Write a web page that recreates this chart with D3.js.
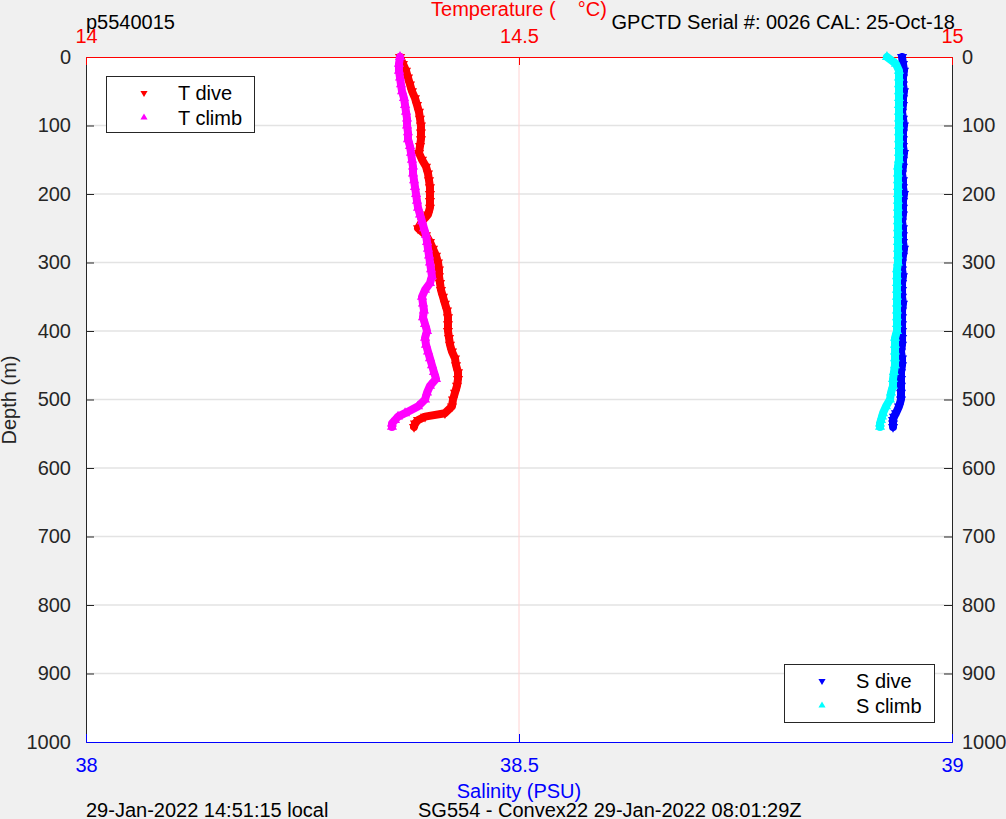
<!DOCTYPE html>
<html><head><meta charset="utf-8">
<script src="https://cdn.jsdelivr.net/npm/d3@7"></script>
<style>body{margin:0;background:#f0f0f0;}svg{display:block;font-family:"Liberation Sans",Arial,sans-serif;}</style>
</head><body><svg id="c" width="1006" height="819"></svg>
<script>
const depths = [0,10,20,30,40,50,60,70,80,90,100,110,120,130,140,150,160,170,180,190,200,210,220,230,240,250,260,270,280,290,300,310,320,330,340,350,360,370,380,390,400,410,420,430,440,450,460,470,480,490,500,510,520,525,530,535,540];
const tDive = [14.3626,14.3660,14.3695,14.3718,14.3741,14.3764,14.3799,14.3822,14.3845,14.3857,14.3868,14.3868,14.3868,14.3857,14.3845,14.3880,14.3926,14.3949,14.3961,14.3972,14.3972,14.3972,14.3972,14.3949,14.3880,14.3834,14.3926,14.3972,14.4007,14.4042,14.4065,14.4076,14.4076,14.4088,14.4099,14.4122,14.4145,14.4169,14.4180,14.4180,14.4180,14.4192,14.4203,14.4226,14.4261,14.4273,14.4296,14.4296,14.4284,14.4261,14.4238,14.4226,14.4145,14.3915,14.3834,14.3799,14.3788];
const tClimb = [14.3626,14.3614,14.3614,14.3626,14.3637,14.3649,14.3672,14.3684,14.3695,14.3707,14.3707,14.3718,14.3718,14.3741,14.3753,14.3764,14.3776,14.3776,14.3788,14.3799,14.3811,14.3822,14.3834,14.3857,14.3880,14.3903,14.3926,14.3938,14.3949,14.3961,14.3972,14.3984,14.3995,14.3972,14.3915,14.3880,14.3891,14.3903,14.3891,14.3915,14.3938,14.3915,14.3926,14.3949,14.3972,14.3995,14.4018,14.4042,14.3972,14.3938,14.3915,14.3834,14.3684,14.3603,14.3568,14.3533,14.3533];
const sDive = [38.9423,38.9434,38.9446,38.9434,38.9434,38.9446,38.9434,38.9434,38.9423,38.9434,38.9446,38.9434,38.9434,38.9434,38.9446,38.9434,38.9434,38.9423,38.9434,38.9434,38.9446,38.9434,38.9434,38.9434,38.9423,38.9434,38.9434,38.9434,38.9446,38.9434,38.9423,38.9423,38.9434,38.9423,38.9423,38.9423,38.9434,38.9423,38.9423,38.9423,38.9423,38.9423,38.9423,38.9411,38.9423,38.9423,38.9411,38.9411,38.9411,38.9411,38.9411,38.9388,38.9353,38.9330,38.9319,38.9319,38.9319];
const sClimb = [38.9249,38.9353,38.9388,38.9388,38.9388,38.9388,38.9388,38.9388,38.9388,38.9388,38.9388,38.9388,38.9388,38.9388,38.9388,38.9388,38.9376,38.9376,38.9376,38.9376,38.9376,38.9376,38.9376,38.9376,38.9376,38.9376,38.9376,38.9376,38.9376,38.9376,38.9376,38.9365,38.9365,38.9365,38.9365,38.9365,38.9365,38.9365,38.9365,38.9365,38.9365,38.9342,38.9342,38.9342,38.9342,38.9342,38.9330,38.9319,38.9319,38.9296,38.9284,38.9238,38.9203,38.9192,38.9180,38.9169,38.9169];
const depthTicks = [0,100,200,300,400,500,600,700,800,900,1000];
const tempTicks = [14,14.5,15];
const salTicks = [38,38.5,39];

const svg = d3.select("#c");
const L=86,R=952,T=57,B=742;
const y = d3.scaleLinear().domain([0,1000]).range([T,B]);
const xT = d3.scaleLinear().domain([14,15]).range([L,R]);
const xS = d3.scaleLinear().domain([38,39]).range([L,R]);
const fs = 20, dark="#262626", ff="Liberation Sans, Arial, sans-serif";

svg.append("rect").attr("width",1006).attr("height",819).attr("fill","#f0f0f0");
svg.append("rect").attr("x",L).attr("y",T).attr("width",R-L).attr("height",B-T).attr("fill","#fff");

// grid
svg.append("g").selectAll("line").data(depthTicks.slice(1,-1)).join("line")
  .attr("x1",L).attr("x2",R).attr("y1",d=>y(d)).attr("y2",d=>y(d)).attr("stroke","#e3e3e3").attr("stroke-width",1.5);
svg.append("line").attr("x1",xT(14.5)).attr("x2",xT(14.5)).attr("y1",T).attr("y2",B).attr("stroke","#ffd2d2").attr("stroke-width",1);

// axes
const gl = svg.append("g").attr("transform",`translate(${L},0)`).call(d3.axisLeft(y).tickValues(depthTicks).tickSize(-8).tickPadding(15).tickFormat(d3.format("d")));
const gr = svg.append("g").attr("transform",`translate(${R},0)`).call(d3.axisRight(y).tickValues(depthTicks).tickSize(-8).tickPadding(10).tickFormat(d3.format("d")));
[gl,gr].forEach(g=>{g.select(".domain").attr("stroke",dark);g.selectAll(".tick line").attr("stroke",dark);g.selectAll("text").attr("font-size",fs).attr("fill",dark).attr("font-family",ff);});
const gt = svg.append("g").attr("transform",`translate(0,${T})`).call(d3.axisTop(xT).tickValues(tempTicks).tickSize(-8).tickPadding(14).tickFormat(d=>d));
gt.select(".domain").attr("stroke","#ff0000");gt.selectAll(".tick line").attr("stroke","#ff0000");
gt.selectAll("text").attr("font-size",fs).attr("fill","#ff0000").attr("font-family",ff);
const gb = svg.append("g").attr("transform",`translate(0,${B})`).call(d3.axisBottom(xS).tickValues(salTicks).tickSize(-8).tickPadding(16).tickFormat(d=>d));
gb.select(".domain").attr("stroke","#0000ff");gb.selectAll(".tick line").attr("stroke","#0000ff");
gb.selectAll("text").attr("font-size",fs).attr("fill","#0000ff").attr("font-family",ff);
[gt,gb].forEach(g=>g.selectAll(".tick line").filter(d=>d===14||d===15||d===38||d===39).remove());
[gl,gr].forEach(g=>g.selectAll(".tick line").filter(d=>d===0||d===1000).remove());

// series
function series(vals, xs, color, down){
  const pts = depths.map((d,i)=>[xs(vals[i]), y(d)]);
  const g = svg.append("g");
  g.append("path").attr("d",d3.line()(pts)).attr("fill","none").attr("stroke",color).attr("stroke-width",8).attr("stroke-linejoin","round").attr("stroke-linecap","round");
  g.selectAll("path.m").data(pts).join("path").attr("class","m")
    .attr("d",d3.symbol(d3.symbolTriangle,45)).attr("fill",color)
    .attr("transform",p=>`translate(${p[0]},${p[1]}) rotate(${down?180:0})`);
}
series(tDive,xT,"#ff0000",true);
series(tClimb,xT,"#ff00ff",false);
series(sDive,xS,"#0000ff",true);
series(sClimb,xS,"#00ffff",false);

// legends
function legend(x,y0,w,h,items){
  const g=svg.append("g");
  g.append("rect").attr("x",x+0.5).attr("y",y0+0.5).attr("width",w).attr("height",h).attr("fill","#fff").attr("stroke",dark).attr("stroke-width",1);
  items.forEach((it,i)=>{
    const cy=y0+17+i*24.5;
    g.append("path").attr("d",d3.symbol(d3.symbolTriangle,22)).attr("fill",it.c).attr("transform",`translate(${x+38},${cy}) rotate(${it.down?180:0})`);
    g.append("text").attr("x",x+72).attr("y",cy+7).attr("font-size",fs).attr("fill","#000").text(it.t);
  });
}
legend(106,76,148,56,[{t:"T dive",c:"#ff0000",down:true},{t:"T climb",c:"#ff00ff",down:false}]);
legend(784,664,150,58,[{t:"S dive",c:"#0000ff",down:true},{t:"S climb",c:"#00ffff",down:false}]);

// texts
svg.append("text").attr("x",xT(14.5)).attr("y",16).attr("text-anchor","middle").attr("font-size",fs).attr("fill","#ff0000").text("Temperature (\u00a0\u00a0\u00a0\u00a0°C)");
svg.append("text").attr("x",86).attr("y",29).attr("font-size",fs).attr("fill","#000").text("p5540015");
svg.append("text").attr("x",955).attr("y",29).attr("text-anchor","end").attr("font-size",fs).attr("fill","#000").text("GPCTD Serial #: 0026 CAL: 25-Oct-18");
svg.append("text").attr("x",xS(38.5)).attr("y",798).attr("text-anchor","middle").attr("font-size",fs).attr("fill","#0000ff").text("Salinity (PSU)");
svg.append("text").attr("x",86).attr("y",817).attr("font-size",fs).attr("fill","#000").text("29-Jan-2022 14:51:15 local");
svg.append("text").attr("x",418).attr("y",817).attr("font-size",fs).attr("fill","#000").text("SG554 - Convex22 29-Jan-2022 08:01:29Z");
svg.append("text").attr("transform","translate(16,400) rotate(-90)").attr("text-anchor","middle").attr("font-size",fs).attr("fill",dark).text("Depth (m)");
</script></body></html>
